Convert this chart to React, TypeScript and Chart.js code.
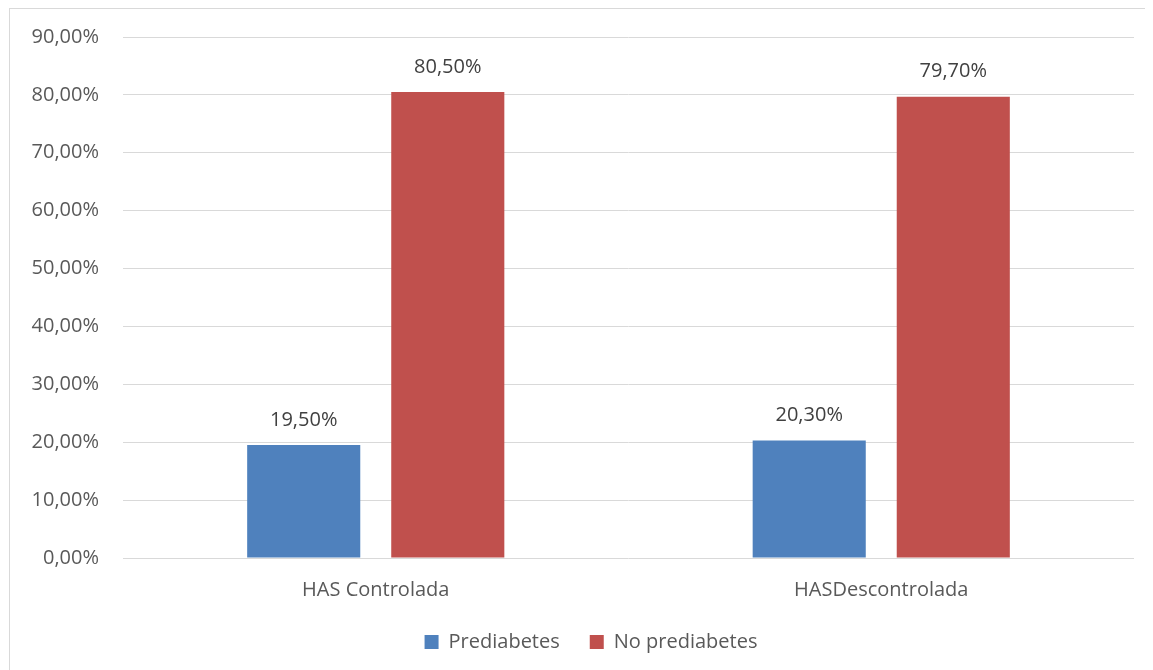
import React, { useEffect, useRef } from "react";
import { Chart, registerables } from "chart.js";

Chart.register(...registerables);

const categories = ["HAS Controlada", "HASDescontrolada"];
const prediabetes = [19.5, 20.3];
const noPrediabetes = [80.5, 79.7];
const seriesNames = ["Prediabetes", "No prediabetes"];
const yTicks = [0, 10, 20, 30, 40, 50, 60, 70, 80, 90];

const FONT = "'Open Sans', sans-serif";
const FS = 20;

const fmt = (v: number) => v.toFixed(2).replace(".", ",") + "%";

const dataLabels = {
  id: "dataLabels",
  afterDatasetsDraw(chart: any) {
    const ctx = chart.ctx;
    ctx.save();
    ctx.font = `${FS}px ${FONT}`;
    ctx.fillStyle = "#404040";
    ctx.textAlign = "center";
    ctx.textBaseline = "middle";
    chart.data.datasets.forEach((ds: any, i: number) => {
      const meta = chart.getDatasetMeta(i);
      meta.data.forEach((bar: any, j: number) => {
        ctx.fillText(fmt(ds.data[j]), bar.x, bar.y - 25);
      });
    });
    ctx.restore();
  },
};

const legendShift = {
  id: "legendShift",
  afterLayout(chart: any) {
    if (chart.legend) {
      chart.legend.left += 19;
      chart.legend.right += 19;
    }
  },
};

export default function App() {
  const ref = useRef<HTMLCanvasElement>(null);
  useEffect(() => {
    document.body.style.overflow = "hidden";
    const chart = new Chart(ref.current!, {
      type: "bar",
      data: {
        labels: categories,
        datasets: [
          {
            label: seriesNames[0],
            data: prediabetes,
            backgroundColor: "#4f81bd",
            categoryPercentage: 0.57,
            barPercentage: 0.785,
          },
          {
            label: seriesNames[1],
            data: noPrediabetes,
            backgroundColor: "#c0504d",
            categoryPercentage: 0.57,
            barPercentage: 0.785,
          },
        ],
      },
      options: {
        animation: false,
        responsive: false,
        layout: { padding: { top: 0, right: 20, bottom: 8, left: 0 } },
        plugins: {
          tooltip: { enabled: false },
          legend: {
            position: "bottom",
            labels: {
              font: { family: FONT, size: FS },
              color: "#595959",
              boxWidth: 14,
              boxHeight: 14,
              padding: 30,
            },
          },
        },
        scales: {
          x: {
            grid: { display: false },
            border: { display: false },
            ticks: { font: { family: FONT, size: FS }, color: "#595959", padding: 12 },
            afterFit: (s: any) => {
              s.height = 44;
            },
          },
          y: {
            min: 0,
            max: 90,
            afterBuildTicks: (s: any) => {
              s.ticks = yTicks.map((v) => ({ value: v }));
            },
            grid: { color: "#d9d9d9", lineWidth: 1, drawTicks: false },
            border: { display: false },
            ticks: {
              font: { family: FONT, size: FS },
              color: "#595959",
              padding: 24,
              callback: (v: any) => fmt(Number(v)),
            },
            afterFit: (s: any) => {
              s.width = 113;
              s.paddingTop = 28;
              s.paddingBottom = 20;
            },
          },
        },
      },
      plugins: [dataLabels, legendShift],
    });
    return () => chart.destroy();
  }, []);
  return (
    <div
      style={{
        width: 1200,
        height: 700,
        borderLeft: "1px solid #d9d9d9",
        borderTop: "1px solid #d9d9d9",
        boxSizing: "border-box",
        position: "relative",
        left: 1,
      }}
    >
      <canvas ref={ref} width={1144} height={661} style={{ display: "block" }} />
    </div>
  );
}
